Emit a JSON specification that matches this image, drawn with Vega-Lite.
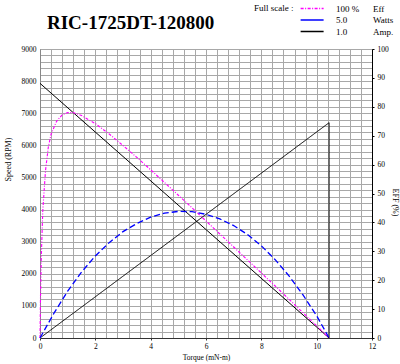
{
  "$schema": "https://vega.github.io/schema/vega-lite/v6.json",
  "width": 332,
  "height": 289,
  "autosize": {"type": "none"},
  "padding": {"left": 40, "top": 49, "right": 28, "bottom": 26},
  "background": "white",
  "title": {"text": "RIC-1725DT-120800", "font": "Liberation Serif", "fontSize": 19, "fontWeight": "bold", "color": "#000", "anchor": "start", "frame": "group", "dx": 7, "offset": 0, "dy": 29},
  "config": {
    "font": "Liberation Serif",
    "view": {"stroke": "#888", "strokeWidth": 1},
    "axis": {"labelFont": "Liberation Serif", "labelFontSize": 7.5, "labelColor": "#000", "titleFont": "Liberation Serif", "titleFontSize": 8, "titleFontWeight": "normal", "titleColor": "#000", "labelOverlap": false}
  },
  "data": {"values": [
    {"s": "Speed", "T": 0, "v": 7930, "o": 0},
    {"s": "Speed", "T": 10.45, "v": 0, "o": 1},
    {"s": "Amp.", "T": 0, "v": 0, "o": 0},
    {"s": "Amp.", "T": 10.45, "v": 74.5, "o": 1},
    {"s": "Amp.", "T": 10.45, "v": 0, "o": 2},
    {"s": "Eff", "T": 0, "v": 0, "o": 0},
    {"s": "Eff", "T": 0.02, "v": 15, "o": 1},
    {"s": "Eff", "T": 0.05, "v": 29, "o": 2},
    {"s": "Eff", "T": 0.1, "v": 44, "o": 3},
    {"s": "Eff", "T": 0.2, "v": 58, "o": 4},
    {"s": "Eff", "T": 0.3, "v": 66, "o": 5},
    {"s": "Eff", "T": 0.4, "v": 70.5, "o": 6},
    {"s": "Eff", "T": 0.6, "v": 75, "o": 7},
    {"s": "Eff", "T": 0.8, "v": 77.2, "o": 8},
    {"s": "Eff", "T": 1.0, "v": 78, "o": 9},
    {"s": "Eff", "T": 1.2, "v": 78, "o": 10},
    {"s": "Eff", "T": 1.5, "v": 77, "o": 11},
    {"s": "Eff", "T": 2.0, "v": 74.2, "o": 12},
    {"s": "Eff", "T": 2.5, "v": 70.6, "o": 13},
    {"s": "Eff", "T": 3.0, "v": 66.6, "o": 14},
    {"s": "Eff", "T": 3.5, "v": 62.5, "o": 15},
    {"s": "Eff", "T": 4.0, "v": 58.2, "o": 16},
    {"s": "Eff", "T": 4.5, "v": 53.8, "o": 17},
    {"s": "Eff", "T": 5.0, "v": 49.4, "o": 18},
    {"s": "Eff", "T": 5.5, "v": 45, "o": 19},
    {"s": "Eff", "T": 6.0, "v": 40.5, "o": 20},
    {"s": "Eff", "T": 6.5, "v": 36, "o": 21},
    {"s": "Eff", "T": 7.0, "v": 31.5, "o": 22},
    {"s": "Eff", "T": 7.5, "v": 27, "o": 23},
    {"s": "Eff", "T": 8.0, "v": 22.5, "o": 24},
    {"s": "Eff", "T": 8.5, "v": 18, "o": 25},
    {"s": "Eff", "T": 9.0, "v": 13.4, "o": 26},
    {"s": "Eff", "T": 9.5, "v": 8.8, "o": 27},
    {"s": "Eff", "T": 10.0, "v": 4.2, "o": 28},
    {"s": "Eff", "T": 10.45, "v": 0, "o": 29},
    {"s": "Watts", "T": 0, "v": 0, "o": 0},
    {"s": "Watts", "T": 0.5, "v": 8.5, "o": 1},
    {"s": "Watts", "T": 1.0, "v": 16.2, "o": 2},
    {"s": "Watts", "T": 1.5, "v": 22.8, "o": 3},
    {"s": "Watts", "T": 2.0, "v": 28.4, "o": 4},
    {"s": "Watts", "T": 2.5, "v": 33, "o": 5},
    {"s": "Watts", "T": 3.0, "v": 36.8, "o": 6},
    {"s": "Watts", "T": 3.5, "v": 39.6, "o": 7},
    {"s": "Watts", "T": 4.0, "v": 41.8, "o": 8},
    {"s": "Watts", "T": 4.5, "v": 43.2, "o": 9},
    {"s": "Watts", "T": 5.0, "v": 43.8, "o": 10},
    {"s": "Watts", "T": 5.5, "v": 43.7, "o": 11},
    {"s": "Watts", "T": 6.0, "v": 42.8, "o": 12},
    {"s": "Watts", "T": 6.5, "v": 41.2, "o": 13},
    {"s": "Watts", "T": 7.0, "v": 38.9, "o": 14},
    {"s": "Watts", "T": 7.5, "v": 35.8, "o": 15},
    {"s": "Watts", "T": 8.0, "v": 31.9, "o": 16},
    {"s": "Watts", "T": 8.5, "v": 27.1, "o": 17},
    {"s": "Watts", "T": 9.0, "v": 21.5, "o": 18},
    {"s": "Watts", "T": 9.5, "v": 15, "o": 19},
    {"s": "Watts", "T": 10.0, "v": 7.7, "o": 20},
    {"s": "Watts", "T": 10.45, "v": 0, "o": 21}
  ]},
  "encoding": {
    "x": {"field": "T", "type": "quantitative", "scale": {"domain": [0, 12], "nice": false},
      "axis": {"values": [0,0.4,0.8,1.2,1.6,2,2.4,2.8,3.2,3.6,4,4.4,4.8,5.2,5.6,6,6.4,6.8,7.2,7.6,8,8.4,8.8,9.2,9.6,10,10.4,10.8,11.2,11.6,12],
        "labelExpr": "datum.value % 2 === 0 ? format(datum.value, 'd') : ''", "labelOverlap": false, "labelBound": false, "labelFlush": false,
        "grid": true, "gridColor": "#a8a8a8", "title": "Torque (mN-m)", "titleFontSize": 7.5,
        "domainColor": "#333", "tickSize": 2, "tickColor": "#333", "tickOpacity": {"condition": {"test": "datum.value % 2 === 0", "value": 1}, "value": 0},
        "labelPadding": 2, "titlePadding": 4}}
  },
  "layer": [
    {
      "transform": [{"filter": "datum.s === 'Speed'"}],
      "mark": {"type": "line", "color": "#000", "strokeWidth": 1},
      "encoding": {
        "y": {"field": "v", "type": "quantitative", "scale": {"domain": [0, 9000], "nice": false},
          "axis": {"orient": "left", "values": [0,200,400,600,800,1000,1200,1400,1600,1800,2000,2200,2400,2600,2800,3000,3200,3400,3600,3800,4000,4200,4400,4600,4800,5000,5200,5400,5600,5800,6000,6200,6400,6600,6800,7000,7200,7400,7600,7800,8000,8200,8400,8600,8800,9000],
            "format": "d", "labelExpr": "datum.value % 1000 === 0 ? datum.label : ''", "grid": true, "gridColor": "#a8a8a8", "tickSize": 0,
            "labelPadding": 4, "title": "Speed (RPM)", "titleX": -32, "titleY": 110, "titleAngle": -90, "titleAlign": "center", "titleBaseline": "middle", "domainColor": "#888"}}
      }
    },
    {
      "transform": [{"filter": "datum.s !== 'Speed'"}],
      "mark": {"type": "line"},
      "encoding": {
        "y": {"field": "v", "type": "quantitative", "scale": {"domain": [0, 100], "nice": false},
          "axis": {"orient": "right", "values": [0,10,20,30,40,50,60,70,80,90,100], "grid": false, "tickSize": 2, "tickColor": "#000",
            "domainColor": "#000", "labelPadding": 3, "title": "EFF (%)", "titleX": 22, "titleY": 153, "titleAngle": 90, "titleAlign": "center", "titleBaseline": "middle"}},
        "color": {"field": "s", "type": "nominal", "scale": {"domain": ["Eff", "Watts", "Amp."], "range": ["#ff00ff", "#0000ff", "#000000"]},
          "legend": {"title": "Full scale :", "orient": "none", "legendX": 214, "legendY": -45, "titleOrient": "left", "titleAnchor": "start", "titlePadding": 5,
            "titleFont": "Liberation Serif", "titleFontSize": 9, "titleFontWeight": "normal", "titleColor": "#000",
            "labelFont": "Liberation Serif", "labelFontSize": 9, "labelColor": "#000", "symbolType": "M-1,0H7", "symbolSize": 33, "symbolStrokeWidth": 1.5,
            "labelOffset": 28, "rowPadding": 1.5, "padding": 0,
            "labelExpr": "datum.label === 'Eff' ? '100\u00a0%' : datum.label === 'Watts' ? '\u00a0\u00a0\u00a05.0' : '\u00a0\u00a0\u00a01.0'",
            "encode": {"symbols": {"update": {"strokeDash": {"signal": "datum.value === 'Eff' ? [3,1.5,1,1.5] : [1,0]"}}}}}},
        "strokeDash": {"field": "s", "type": "nominal", "scale": {"domain": ["Watts", "Eff", "Amp."], "range": [[6, 3], [3, 1.5, 1, 1.5], [1, 0]]},
          "legend": {"title": null, "values": ["Eff", "Watts", "Amp."], "orient": "none", "legendX": 324, "legendY": -45, "padding": 0,
            "labelFont": "Liberation Serif", "labelFontSize": 9, "labelColor": "#000", "symbolType": "M-1,0H7", "symbolSize": 33, "symbolStrokeWidth": 1.5, "symbolOpacity": 0,
            "labelOffset": 0, "rowPadding": 1.5}},
        "strokeWidth": {"field": "s", "type": "nominal", "scale": {"domain": ["Amp.", "Eff", "Watts"], "range": [1, 1.3, 1.3]}, "legend": null},
        "order": {"field": "o", "type": "quantitative"}
      }
    }
  ],
  "resolve": {"scale": {"y": "independent"}}
}
